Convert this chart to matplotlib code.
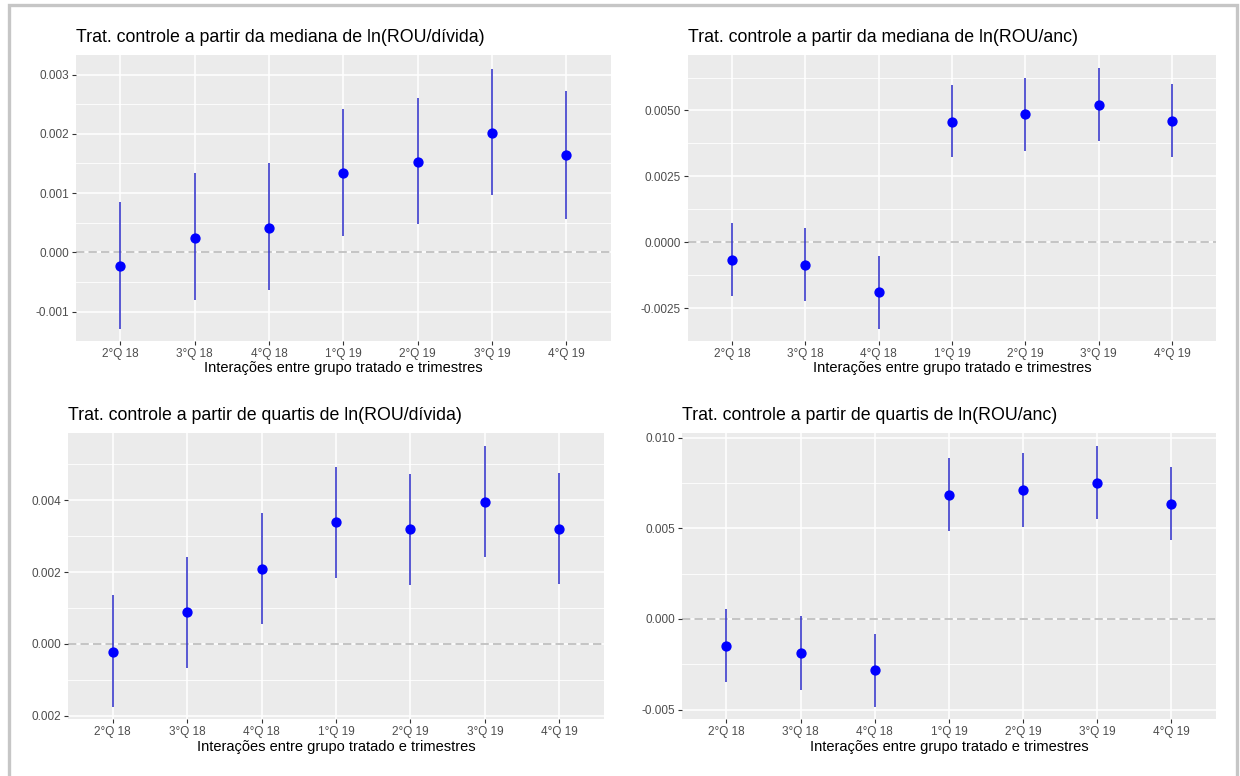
import matplotlib
matplotlib.use("Agg")
from matplotlib import pyplot as plt
from matplotlib.patches import Rectangle

plt.rcParams['font.family'] = ['Liberation Sans', 'DejaVu Sans']

quarters = ["2°Q 18", "3°Q 18", "4°Q 18", "1°Q 19", "2°Q 19", "3°Q 19", "4°Q 19"]

# panel 1: mediana ln(ROU/divida)
med_div_est = [-0.000225, 0.000247, 0.000416, 0.001343, 0.001522, 0.002017, 0.001646]
med_div_hi = [0.000848, 0.001331, 0.0015, 0.00241, 0.00261, 0.0031, 0.00272]
med_div_lo = [-0.001298, -0.000809, -0.00064, 0.00027, 0.000472, 0.00096, 0.000567]

# panel 2: mediana ln(ROU/anc)
med_anc_est = [-0.000683, -0.000873, -0.001897, 0.004552, 0.004868, 0.005197, 0.00459]
med_anc_hi = [0.000746, 0.000544, -0.000506, 0.005968, 0.006234, 0.006626, 0.006006]
med_anc_lo = [-0.002023, -0.002213, -0.003288, 0.003225, 0.003477, 0.003857, 0.00325]

# panel 3: quartis ln(ROU/divida)
qrt_div_est = [-0.000213, 0.000882, 0.002079, 0.003387, 0.003192, 0.003944, 0.003192]
qrt_div_hi = [0.001364, 0.002432, 0.003647, 0.004937, 0.004733, 0.005513, 0.00477]
qrt_div_lo = [-0.001745, -0.000659, 0.000557, 0.001847, 0.001652, 0.002432, 0.00168]

# panel 4: quartis ln(ROU/anc)
qrt_anc_est = [-0.001507, -0.001893, -0.002831, 0.00682, 0.007096, 0.007482, 0.006324]
qrt_anc_hi = [0.000551, 0.000165, -0.000827, 0.008879, 0.009173, 0.00954, 0.008401]
qrt_anc_lo = [-0.003474, -0.003897, -0.004835, 0.004871, 0.005092, 0.005533, 0.004375]

titles = [
    "Trat. controle a partir da mediana de ln(ROU/dívida)",
    "Trat. controle a partir da mediana de ln(ROU/anc)",
    "Trat. controle a partir de quartis de ln(ROU/dívida)",
    "Trat. controle a partir de quartis de ln(ROU/anc)",
]
yticks = [
    [0.003, 0.002, 0.001, 0.0, -0.001],
    [0.005, 0.0025, 0.0, -0.0025],
    [0.004, 0.002, 0.0, -0.002],
    [0.010, 0.005, 0.0, -0.005],
]
ytick_labels = [
    ["0.003", "0.002", "0.001", "0.000", "-0.001"],
    ["0.0050", "0.0025", "0.0000", "-0.0025"],
    ["0.004", "0.002", "0.000", "0.002"],
    ["0.010", "0.005", "0.000", "-0.005"],
]
yminor = [
    [0.0025, 0.0015, 0.0005, -0.0005],
    [0.00625, 0.00375, 0.00125, -0.00125],
    [0.005, 0.003, 0.001, -0.001],
    [0.0075, 0.0025, -0.0025],
]
ylims = [(-0.001494, 0.00333), (-0.00373, 0.007107), (-0.002097, 0.005884), (-0.005533, 0.010276)]
rects = [
    [0.0612, 0.5606, 0.4315, 0.3686],
    [0.5548, 0.5610, 0.4258, 0.3682],
    [0.0548, 0.0731, 0.4323, 0.3693],
    [0.5500, 0.0731, 0.4306, 0.3693],
]
series = [
    (med_div_est, med_div_lo, med_div_hi),
    (med_anc_est, med_anc_lo, med_anc_hi),
    (qrt_div_est, qrt_div_lo, qrt_div_hi),
    (qrt_anc_est, qrt_anc_lo, qrt_anc_hi),
]

fig = plt.figure(figsize=(12.4, 7.76), dpi=100)
# grey frame around the whole figure (bottom edge runs off the image)
fig.patches.append(Rectangle((9 / 1240, -0.05), (1237 - 9) / 1240, 1.05 - 5 / 776,
                             transform=fig.transFigure, fill=False,
                             edgecolor='#c6c6c6', linewidth=2.4))

x = list(range(1, len(quarters) + 1))
for i in range(4):
    ax = fig.add_axes(rects[i])
    ax.set_facecolor('#EBEBEB')
    for s in ax.spines.values():
        s.set_visible(False)
    est, lo, hi = series[i]
    for yv in yminor[i]:
        ax.axhline(yv, color='white', linewidth=0.6, zorder=0)
    for yv in yticks[i]:
        ax.axhline(yv, color='white', linewidth=1.1, zorder=0)
    for xv in x:
        ax.axvline(xv, color='white', linewidth=1.1, zorder=0)
    ax.axhline(0, color='#bebebe', linestyle=(0, (4.8, 2.4)), linewidth=1.25, zorder=1)
    ax.vlines(x, lo, hi, color='#3c3ccc', linewidth=1.2, zorder=2)
    ax.plot(x, est, 'o', color='#0000ff', markersize=6.4, zorder=3)
    ax.set_xlim(0.4, 7.6)
    ax.set_ylim(*ylims[i])
    ax.set_xticks(x)
    ax.set_xticklabels(quarters)
    ax.set_yticks(yticks[i])
    ax.set_yticklabels(ytick_labels[i])
    ax.tick_params(axis='both', colors='#4d4d4d', labelsize=8.5, length=3,
                   width=0.8, pad=2)
    ax.tick_params(axis='both', color='#333333')
    ax.set_xlabel("Interações entre grupo tratado e trimestres", fontsize=10.5,
                  color='black', labelpad=1)
    ax.text(0.0, 1 + 17 / 286, titles[i], transform=ax.transAxes, ha='left',
            va='center', fontsize=12.8, color='black')

fig.savefig("out.png", dpi=100)
